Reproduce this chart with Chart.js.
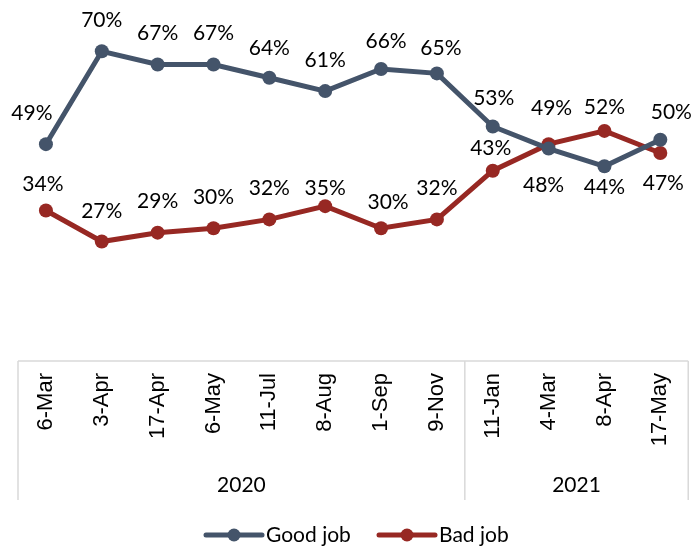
<!DOCTYPE html>
<html>
<head>
<meta charset="utf-8">
<script src="https://cdn.jsdelivr.net/npm/chart.js@4.4.1/dist/chart.umd.min.js"></script>
<style>
  html, body { margin: 0; padding: 0; background: #fff; }
  canvas { display: block; }
</style>
</head>
<body>
<canvas id="myChart" width="699" height="548"></canvas>
<script>
// data
var dates = ['6-Mar', '3-Apr', '17-Apr', '6-May', '11-Jul', '8-Aug', '1-Sep', '9-Nov', '11-Jan', '4-Mar', '8-Apr', '17-May'];
var years = ['2020', '2021'];
var yearSpans = [8, 4]; // how many dates fall in each year
var goodJob = [49, 70, 67, 67, 64, 61, 66, 65, 53, 48, 44, 50];
var badJob = [34, 27, 29, 30, 32, 35, 30, 32, 43, 49, 52, 47];

// where each value label sits relative to its point (dx, dy)
var goodLabelPos = [[-14, -31], [0, -31], [0, -31], [0, -31], [0, -30], [0, -31], [5, -28], [4, -25], [1, -28], [-5, 37], [0, 21], [11, -28]];
var badLabelPos = [[-3, -26], [0, -30], [0, -31], [0, -31], [0, -31], [0, -18], [7, -26], [0, -31], [-2, -22], [3, -36], [0, -24], [3, 30]];

var blue = '#44546A';
var red = '#972823';
var frameColor = '#D9D9D9';
var labelFont = '21px Lato, "Open Sans", sans-serif';

var valueLabels = {
  id: 'valueLabels',
  afterDatasetsDraw: function (chart) {
    var ctx = chart.ctx;
    var positions = [goodLabelPos, badLabelPos];
    ctx.save();
    ctx.font = labelFont;
    ctx.fillStyle = '#000';
    ctx.textAlign = 'center';
    ctx.textBaseline = 'middle';
    chart.data.datasets.forEach(function (ds, di) {
      var meta = chart.getDatasetMeta(di);
      meta.data.forEach(function (pt, i) {
        var off = positions[di][i];
        ctx.fillText(ds.data[i] + '%', pt.x + off[0], pt.y + off[1]);
      });
    });
    ctx.restore();
  }
};

// excel style axis box with year groups, plus legend
var axisFrame = {
  id: 'axisFrame',
  afterDraw: function (chart) {
    var ctx = chart.ctx;
    var x = chart.scales.x;
    var top = chart.chartArea.bottom;
    var bottom = top + 139;
    var step = x.getPixelForValue(1) - x.getPixelForValue(0);
    var left = x.getPixelForValue(0) - step / 2;

    ctx.save();
    ctx.strokeStyle = frameColor;
    ctx.lineWidth = 1.5;
    ctx.beginPath();
    ctx.moveTo(left, top);
    ctx.lineTo(x.getPixelForValue(dates.length - 1) + step / 2, top);
    ctx.stroke();

    var idx = 0;
    var edges = [left];
    yearSpans.forEach(function (n) {
      idx += n;
      edges.push(x.getPixelForValue(idx - 1) + step / 2);
    });
    edges.forEach(function (ex) {
      ctx.beginPath();
      ctx.moveTo(ex, top);
      ctx.lineTo(ex, bottom);
      ctx.stroke();
    });

    ctx.font = labelFont;
    ctx.fillStyle = '#000';
    ctx.textAlign = 'center';
    ctx.textBaseline = 'middle';
    years.forEach(function (yr, i) {
      ctx.fillText(yr, (edges[i] + edges[i + 1]) / 2, top + 124);
    });

    // legend
    var ly = 535;
    var items = [
      { text: chart.data.datasets[0].label, color: blue, x0: 206 },
      { text: chart.data.datasets[1].label, color: red, x0: 379 }
    ];
    ctx.textAlign = 'left';
    items.forEach(function (it) {
      ctx.strokeStyle = it.color;
      ctx.lineWidth = 5;
      ctx.lineCap = 'round';
      ctx.beginPath();
      ctx.moveTo(it.x0, ly);
      ctx.lineTo(it.x0 + 56, ly);
      ctx.stroke();
      ctx.fillStyle = it.color;
      ctx.beginPath();
      ctx.arc(it.x0 + 28, ly, 6.5, 0, Math.PI * 2);
      ctx.fill();
      ctx.fillStyle = '#000';
      ctx.fillText(it.text, it.x0 + 60, ly);
    });
    ctx.restore();
  }
};

var ctx = document.getElementById('myChart').getContext('2d');

var lineChart = new Chart(ctx, {
  type: 'line',
  data: {
    labels: dates,
    datasets: [{
      label: 'Good job',
      data: goodJob,
      borderColor: blue,
      backgroundColor: blue,
      borderWidth: 5,
      pointRadius: 7,
      pointHoverRadius: 7,
      pointBorderWidth: 0,
      tension: 0
    }, {
      label: 'Bad job',
      data: badJob,
      borderColor: red,
      backgroundColor: red,
      borderWidth: 5,
      pointRadius: 7,
      pointHoverRadius: 7,
      pointBorderWidth: 0,
      tension: 0
    }]
  },
  options: {
    responsive: false,
    animation: false,
    layout: {
      padding: { top: 7, left: 18, right: 4, bottom: 0 }
    },
    scales: {
      x: {
        offset: true,
        grid: { display: false, drawTicks: false },
        border: { display: false },
        ticks: {
          minRotation: 90,
          maxRotation: 90,
          padding: 12,
          color: '#000',
          font: { family: '"Liberation Sans", Arial, sans-serif', size: 22 }
        },
        afterFit: function (scale) {
          scale.height = 187;
        }
      },
      y: {
        display: false,
        min: 0,
        max: 80
      }
    },
    plugins: {
      legend: { display: false },
      tooltip: { enabled: false }
    }
  },
  plugins: [valueLabels, axisFrame]
});
</script>
</body>
</html>
